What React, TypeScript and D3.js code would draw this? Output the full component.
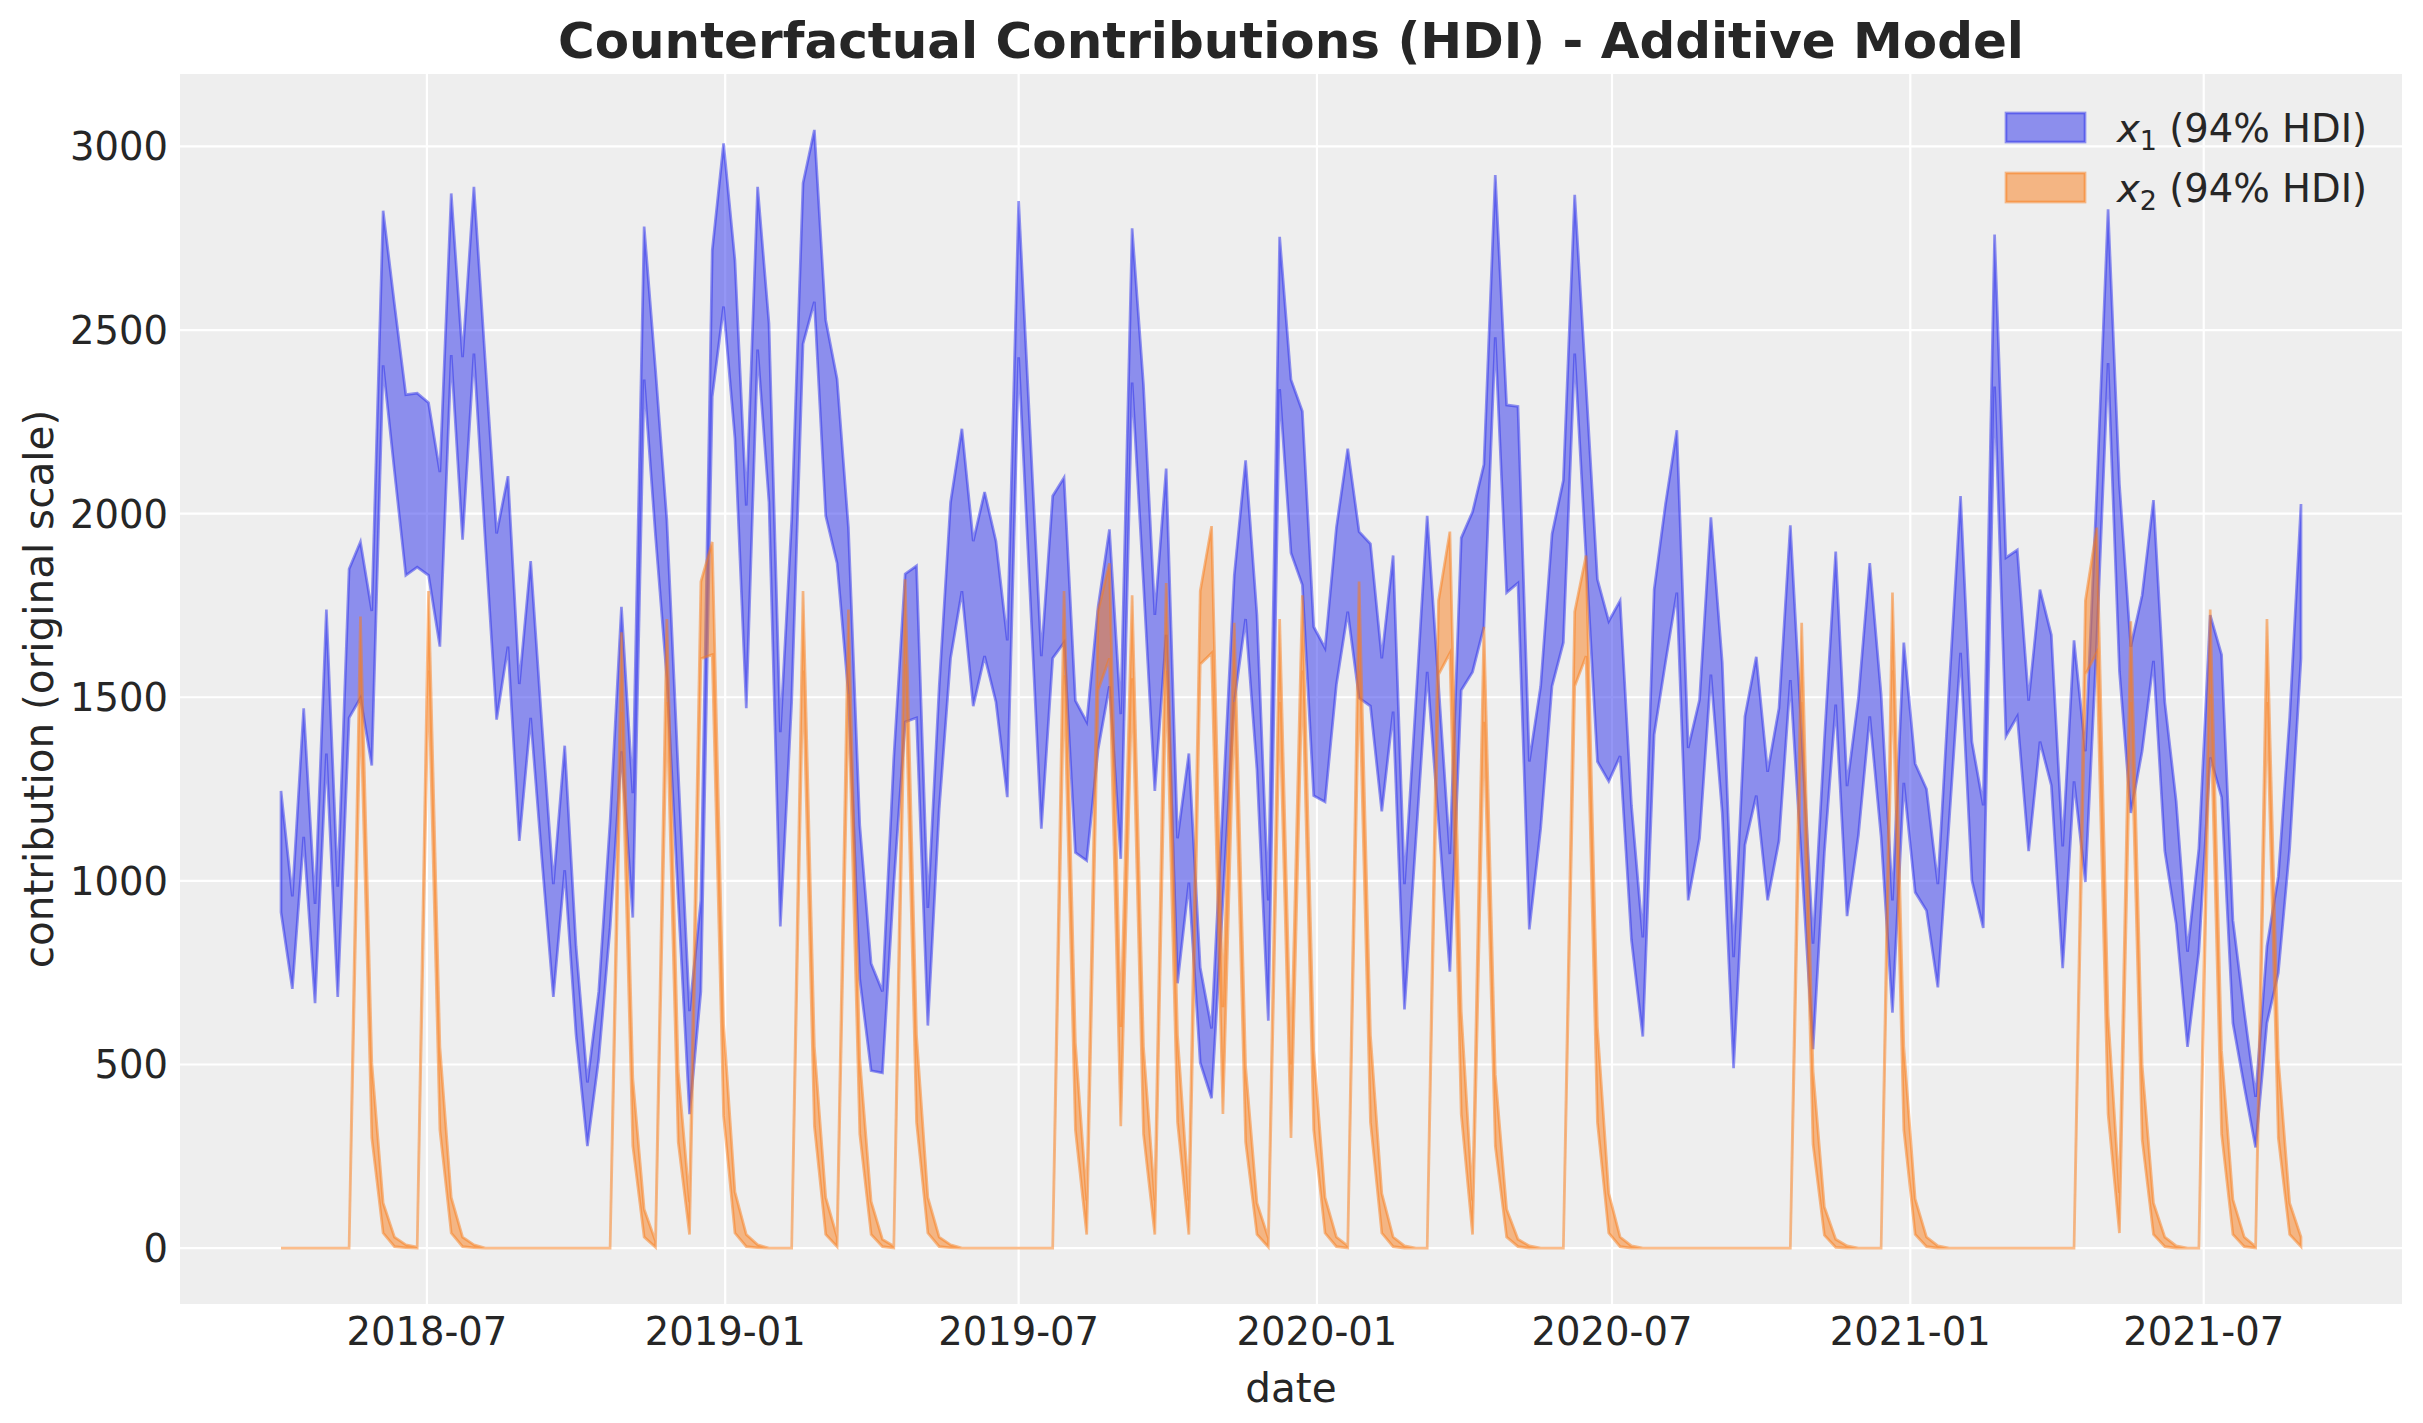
import * as d3 from "d3";

// weekly (Monday) dates, 2018-04-02 .. 2021-08-30
const START = "2018-04-01";
const END = "2021-09-01";

// x1 contribution, 94% HDI
const x1Upper = [
  1245, 958, 1470, 937, 1739, 984, 1849, 1923, 1735, 2825,
  2570, 2324, 2328, 2302, 2113, 2872, 2426, 2890, 2415, 1946,
  2102, 1536, 1871, 1422, 991, 1368, 822, 451, 699, 1163,
  1746, 1239, 2782, 2393, 1983, 1300, 645, 947, 2717, 3008,
  2690, 2022, 2890, 2518, 1405, 1983, 2900, 3045, 2527, 2367,
  1962, 1152, 775, 699, 1336, 1836, 1858, 926, 1530, 2031,
  2231, 1925, 2059, 1925, 1655, 2851, 2231, 1612, 2048, 2098,
  1491, 1433, 1746, 1957, 1454, 2777, 2350, 1724, 2123, 1116,
  1347, 764, 598, 1215, 1832, 2145, 1724, 947, 2754, 2365,
  2279, 1692, 1634, 1962, 2177, 1951, 1918, 1606, 1886, 991,
  1487, 1994, 1534, 1073, 1934, 2005, 2134, 2922, 2296, 2292,
  1325, 1530, 1944, 2091, 2868, 2350, 1821, 1707, 1763, 1206,
  846, 1793, 2026, 2227, 1362, 1493, 1990, 1595, 792, 1448,
  1610, 1297, 1470, 1968, 1400, 829, 1383, 1897, 1258, 1498,
  1865, 1508, 947, 1649, 1319, 1250, 991, 1530, 2048, 1379,
  1206, 2760, 1880, 1901, 1491, 1793, 1670, 1094, 1655, 1353,
  2060, 2829, 2080, 1638, 1778, 2037, 1487, 1217, 807, 1088,
  1724, 1616, 893, 645, 412, 822, 1012, 1444, 2026,
];
const x1Lower = [
  915, 706, 1120, 667, 1347, 684, 1444, 1498, 1314, 2404,
  2115, 1832, 1854, 1832, 1638, 2432, 1929, 2436, 1925, 1439,
  1638, 1109, 1444, 1055, 684, 1029, 580, 278, 516, 872,
  1353, 900, 2365, 1940, 1552, 950, 365, 699, 2318, 2564,
  2205, 1470, 2447, 2031, 876, 1487, 2462, 2577, 1994, 1865,
  1508, 732, 483, 477, 991, 1433, 1444, 606, 1196, 1606,
  1789, 1476, 1612, 1487, 1228, 2426, 1785, 1142, 1606, 1649,
  1077, 1055, 1357, 1530, 1060, 2357, 1810, 1245, 1670, 721,
  995, 505, 408, 947, 1487, 1713, 1303, 619, 2339, 1893,
  1806, 1232, 1215, 1534, 1733, 1498, 1476, 1189, 1461, 650,
  1109, 1569, 1161, 753, 1519, 1569, 1692, 2480, 1785, 1811,
  868, 1142, 1530, 1649, 2436, 1880, 1325, 1271, 1340, 839,
  576, 1398, 1595, 1785, 947, 1116, 1562, 1185, 490, 1098,
  1232, 947, 1109, 1547, 1045, 542, 1077, 1480, 904, 1124,
  1448, 1120, 641, 1267, 969, 919, 710, 1163, 1621, 1001,
  872, 2346, 1394, 1448, 1081, 1379, 1260, 762, 1271, 997,
  1650, 2410, 1571, 1185, 1353, 1599, 1081, 883, 548, 807,
  1336, 1228, 613, 440, 274, 613, 749, 1088, 1606,
];

// x2 contribution, 94% HDI
const x2Upper = [
  0, 0, 0, 0, 0, 0, 0, 1720, 505, 123,
  30, 9, 3, 1789, 548, 138, 30, 9, 0, 0,
  0, 0, 0, 0, 0, 0, 0, 0, 0, 0,
  1677, 462, 106, 19, 1713, 483, 125, 1815, 1923, 610,
  153, 37, 9, 0, 0, 0, 1789, 548, 138, 30,
  1739, 516, 127, 24, 5, 1821, 580, 138, 30, 9,
  0, 0, 0, 0, 0, 0, 0, 0, 0, 1789,
  559, 130, 1735, 1865, 602, 1778, 548, 130, 1811, 580,
  130, 1789, 1966, 656, 1703, 494, 123, 28, 1713, 500,
  1778, 537, 138, 30, 6, 1815, 580, 149, 30, 6,
  0, 0, 1763, 1951, 645, 130, 1692, 473, 106, 24,
  6, 0, 0, 0, 1733, 1886, 602, 149, 30, 6,
  0, 0, 0, 0, 0, 0, 0, 0, 0, 0,
  0, 0, 0, 0, 1703, 483, 112, 24, 6, 0,
  0, 0, 1785, 548, 134, 30, 6, 0, 0, 0,
  0, 0, 0, 0, 0, 0, 0, 0, 0, 1763,
  1962, 634, 150, 1707, 498, 123, 30, 6, 0, 0,
  1739, 537, 132, 30, 4, 1713, 516, 123, 30,
];
const x2Lower = [
  0, 0, 0, 0, 0, 0, 0, 1500, 300, 41,
  4, 1, 0, 1573, 322, 41, 4, 1, 0, 0,
  0, 0, 0, 0, 0, 0, 0, 0, 0, 0,
  1460, 278, 30, 2, 1487, 289, 37, 1605, 1616, 360,
  41, 4, 1, 0, 0, 0, 1573, 332, 37, 4,
  1508, 311, 37, 4, 0, 1590, 343, 41, 4, 1,
  0, 0, 0, 0, 0, 0, 0, 0, 0, 1560,
  322, 37, 1519, 1606, 332, 1552, 311, 37, 1573, 343,
  37, 1590, 1620, 365, 1487, 289, 37, 3, 1487, 300,
  1573, 322, 41, 4, 0, 1573, 343, 41, 4, 0,
  0, 0, 1562, 1620, 365, 37, 1433, 278, 30, 4,
  0, 0, 0, 0, 1530, 1612, 343, 41, 4, 0,
  0, 0, 0, 0, 0, 0, 0, 0, 0, 0,
  0, 0, 0, 0, 1487, 283, 35, 2, 0, 0,
  0, 0, 1573, 322, 37, 4, 0, 0, 0, 0,
  0, 0, 0, 0, 0, 0, 0, 0, 0, 1562,
  1621, 365, 41, 1487, 296, 37, 4, 0, 0, 0,
  1508, 311, 37, 4, 0, 1487, 300, 37, 4,
];

const yTicks = [0, 500, 1000, 1500, 2000, 2500, 3000];
const xTickDates = ["2018-07-01", "2019-01-01", "2019-07-01", "2020-01-01", "2020-07-01", "2021-01-01", "2021-07-01"];

const series = [
  { name: "1", upper: x1Upper, lower: x1Lower, color: "#2a2eec" },
  { name: "2", upper: x2Upper, lower: x2Lower, color: "#fa7c17" },
];

const W = 2423;
const H = 1423;
const margin = { top: 74, right: 21, bottom: 119, left: 180 };
const FONT = "DejaVu Sans";
const TEXT = "#262626";

export default function App() {
  const dates = d3.utcMonday.range(new Date(START), new Date(END));

  const xExt = d3.extent(dates) as [Date, Date];
  const span = +xExt[1] - +xExt[0];
  const xScale = d3
    .scaleUtc()
    .domain([new Date(+xExt[0] - span * 0.05), new Date(+xExt[1] + span * 0.05)])
    .range([margin.left, W - margin.right]);

  const yMax = d3.max(series, (s) => d3.max(s.upper)) as number;
  const yMin = d3.min(series, (s) => d3.min(s.lower)) as number;
  const yPad = (yMax - yMin) * 0.05;
  const yScale = d3
    .scaleLinear()
    .domain([yMin - yPad, yMax + yPad])
    .range([H - margin.bottom, margin.top]);

  const fmt = d3.utcFormat("%Y-%m");
  const plotW = W - margin.left - margin.right;
  const plotH = H - margin.top - margin.bottom;
  const cx = margin.left + plotW / 2;

  return (
    <svg
      width={W}
      height={H}
      viewBox={`0 0 ${W} ${H}`}
      style={{ position: "absolute", left: 0, top: 0, background: "#fff" }}
      fontFamily={FONT}
    >
      <rect x={margin.left} y={margin.top} width={plotW} height={plotH} fill="#eeeeee" />

      {/* grid */}
      {yTicks.map((t) => (
        <line key={"gy" + t} x1={margin.left} x2={W - margin.right} y1={yScale(t)} y2={yScale(t)} stroke="#fff" strokeWidth={2.2} />
      ))}
      {xTickDates.map((d) => (
        <line key={"gx" + d} x1={xScale(new Date(d))} x2={xScale(new Date(d))} y1={margin.top} y2={H - margin.bottom} stroke="#fff" strokeWidth={2.2} />
      ))}

      {/* HDI bands */}
      {series.map((s) => {
        const area = d3
          .area<number>()
          .x((_d, i) => xScale(dates[i]))
          .y0((_d, i) => yScale(s.lower[i]))
          .y1((d) => yScale(d));
        return (
          <path
            key={s.name}
            d={area(s.upper) as string}
            fill={s.color}
            fillOpacity={0.5}
            stroke={s.color}
            strokeOpacity={0.5}
            strokeWidth={2.7}
            strokeLinejoin="miter"
          />
        );
      })}

      {/* y tick labels */}
      {yTicks.map((t) => (
        <text key={"ty" + t} x={168} y={yScale(t) + 14} textAnchor="end" fontSize={38.5} fill={TEXT}>
          {t}
        </text>
      ))}
      {/* x tick labels */}
      {xTickDates.map((d) => (
        <text key={"tx" + d} x={xScale(new Date(d))} y={1345} textAnchor="middle" fontSize={38.5} fill={TEXT}>
          {fmt(new Date(d))}
        </text>
      ))}

      {/* axis labels */}
      <text x={cx} y={1402} textAnchor="middle" fontSize={40.5} fill={TEXT}>
        date
      </text>
      <text
        transform={`translate(53,${margin.top + plotH / 2}) rotate(-90)`}
        textAnchor="middle"
        fontSize={40.5}
        fill={TEXT}
      >
        contribution (original scale)
      </text>

      {/* title */}
      <text x={cx} y={58} textAnchor="middle" fontSize={50} fontWeight="bold" fill={TEXT}>
        Counterfactual Contributions (HDI) - Additive Model
      </text>

      {/* legend */}
      {series.map((s, i) => (
        <g key={"lg" + s.name} transform={`translate(2006,${113 + i * 60})`}>
          <rect width={79} height={29} fill={s.color} fillOpacity={0.5} stroke={s.color} strokeOpacity={0.5} strokeWidth={2.7} />
          <text x={111} y={28.5} fontSize={38.5} fill={TEXT}>
            <tspan fontStyle="italic">x</tspan>
            <tspan fontSize={27} dy={8}>
              {s.name}
            </tspan>
            <tspan dy={-8}> (94% HDI)</tspan>
          </text>
        </g>
      ))}
    </svg>
  );
}
